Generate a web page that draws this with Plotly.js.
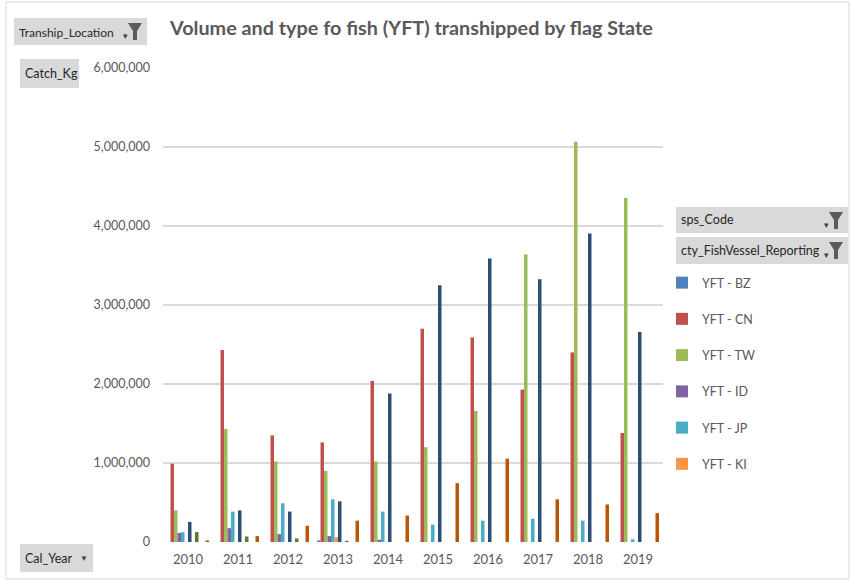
<!DOCTYPE html>
<html><head><meta charset="utf-8">
<script src="https://cdn.plot.ly/plotly-3.0.1.min.js"></script>
<style>body{margin:0;background:#fff}#chart{width:850px;height:581px}</style>
</head><body><div id="chart"></div>
<script>
// ---- data ----
const years = ['2010','2011','2012','2013','2014','2015','2016','2017','2018','2019'];
const seriesNames = ['YFT - BZ','YFT - CN','YFT - TW','YFT - ID','YFT - JP','YFT - KI',
  'YFT - series 7','YFT - series 8','YFT - series 9','YFT - series 10','YFT - series 11','YFT - series 12'];
const yftBZ = [null,null,null,20000,null,null,null,null,null,null];
const yftCN = [990000,2430000,1350000,1260000,2040000,2700000,2590000,1930000,2400000,1380000];
const yftTW = [400000,1430000,1020000,900000,1020000,1200000,1660000,3640000,5065000,4355000];
const yftID = [115000,175000,100000,75000,30000,null,null,null,null,null];
const yftJP = [125000,385000,490000,540000,385000,220000,270000,295000,270000,35000];
const yftKI = [null,null,null,60000,null,null,null,null,null,null];
const yftS7 = [255000,400000,385000,515000,1880000,3250000,3590000,3325000,3905000,2660000];
const yftS8 = [null,null,null,null,null,null,null,null,null,null];
const yftS9 = [125000,70000,45000,15000,null,null,null,null,null,null];
const yftS10 = [null,null,null,null,null,null,null,null,null,null];
const yftS11 = [null,null,null,null,null,null,null,null,null,null];
const yftS12 = [20000,75000,205000,270000,335000,745000,1055000,540000,475000,365000];
const yTicks = [0,1000000,2000000,3000000,4000000,5000000,6000000];

// ---- styles ----
const colors = ['#4F81BD','#C0504D','#9BBB59','#8064A2','#4BACC6','#F79646',
  '#2C4D75','#772C2A','#5F7530','#4D3B62','#276A7C','#B65708'];
const values = [yftBZ,yftCN,yftTW,yftID,yftJP,yftKI,yftS7,yftS8,yftS9,yftS10,yftS11,yftS12];
const FONT = 'Lato, "Liberation Sans", sans-serif';

const traces = values.map((v,i)=>({
  type:'bar', name:seriesNames[i], x:years, y:v,
  marker:{color:colors[i], line:{width:0}},
  legendgroup:'g'+i, showlegend:i<6, hoverinfo:'x+y+name'
}));

// pixel -> paper helpers (plot area: x 163..663, y 68..542)
const L=163, R=663, T=68, B=542;
const px = x => (x-L)/(R-L);
const py = y => (B-y)/(B-T);

function box(x0,y0,x1,y1){
  return {type:'rect', xref:'paper', yref:'paper', x0:px(x0), x1:px(x1), y0:py(y1), y1:py(y0),
    fillcolor:'#D9D9D9', line:{width:0}, layer:'below'};
}
function funnel(x,y){
  const pts=[[x,y],[x+14,y],[x+9,y+8],[x+9,y+17],[x+5,y+17],[x+5,y+8]];
  const d='M'+pts.map(p=>px(p[0])+','+py(p[1])).join(' L')+' Z';
  return {type:'path', xref:'paper', yref:'paper', path:d, fillcolor:'#5A5A5A', line:{width:0}};
}
function label(text,x,y,size,color){
  return {text:text, xref:'paper', yref:'paper', x:px(x), y:py(y), xanchor:'left', yanchor:'middle',
    showarrow:false, font:{family:FONT, size:size||12.5, color:color||'#262626'}};
}

const shapes = [
  {type:'rect', xref:'paper', yref:'paper', x0:px(6), x1:px(849), y0:py(579), y1:py(2),
   line:{color:'#D9D9D9', width:1}, fillcolor:'rgba(0,0,0,0)', layer:'below'},
  box(14,18,147,45), box(20,59,79,88), box(20,544,93,572),
  box(676,207,848,233), box(676,237,848,264),
  funnel(128,23), funnel(829,212), funnel(829,242)
];
const annotations = [
  label('Tranship_Location',17,32,12), label('Catch_Kg',23,74), label('Cal_Year',23,558),
  label('▼',78,558,8,'#404040'),
  label('sps_Code',679,220), label('cty_FishVessel_Reporting',679,251),
  label('▾',121,36,9,'#404040'), label('▾',822,225,9,'#404040'), label('▾',822,255,9,'#404040')
];

const layout = {
  width:850, height:581,
  margin:{l:L, r:850-R, t:T, b:581-B, pad:0},
  paper_bgcolor:'#FFFFFF', plot_bgcolor:'#FFFFFF',
  font:{family:FONT, color:'#595959', size:13},
  title:{text:'<b>Volume and type fo fish (YFT) transhipped by flag State</b>',
    font:{family:FONT, size:19.8, color:'#595959'}, x:0.484, xanchor:'center', y:0.952, yanchor:'middle'},
  barmode:'group', bargap:0.16, bargroupgap:0,
  xaxis:{type:'category', categoryorder:'array', categoryarray:years,
    showgrid:false, showline:false, ticks:'', tickfont:{family:FONT,size:13,color:'#595959'},
    ticklabelstandoff:8, fixedrange:true},
  yaxis:{range:[0,6000000], tickvals:yTicks, tickformat:',d', showgrid:true,
    gridcolor:'#D9D9D9', gridwidth:2, zeroline:false, showline:false, ticks:'',
    tickfont:{family:FONT,size:12.5,color:'#595959'}, ticklabelstandoff:12, fixedrange:true},
  showlegend:true,
  legend:{x:px(662), xanchor:'left', y:py(268), yanchor:'top', traceorder:'grouped',
    tracegroupgap:17, font:{family:FONT,size:12.5,color:'#595959'}, bgcolor:'rgba(0,0,0,0)',
    itemclick:false, itemdoubleclick:false},
  shapes:shapes, annotations:annotations
};
Plotly.newPlot('chart', traces, layout, {displayModeBar:false, staticPlot:true});
</script></body></html>
